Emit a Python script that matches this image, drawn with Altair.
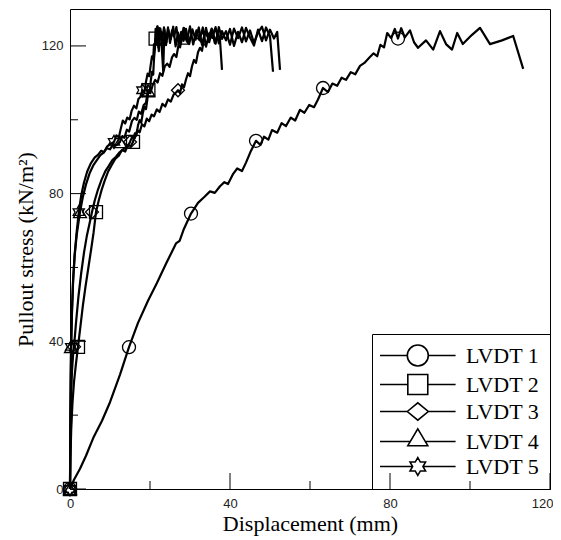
import altair as alt
import pandas as pd

names = ["LVDT 1", "LVDT 2", "LVDT 3", "LVDT 4", "LVDT 5"]

lvdt1_x = [0, 1.0, 2.5, 4.0, 5.8, 8.0, 10.0, 12.5, 14.75, 17.0,
           19.5, 21.7, 24.0, 26.5, 27.4, 28.5, 30.25, 32.0, 33.5, 35.0,
           36.2, 37.5, 38.6, 39.5, 40.7, 41.8, 43.0, 44.0, 45.2, 46.5,
           47.6, 48.5, 49.6, 50.5, 51.8, 52.9, 54.0, 55.2, 56.3, 57.5,
           58.6, 59.8, 61.0, 62.0, 63.25, 64.5, 65.6, 66.8, 67.9, 69.0,
           70.2, 71.3, 72.5, 73.6, 74.8, 75.9, 76.8, 77.6, 78.5, 79.3,
           80.3, 81.2, 82.0, 82.8, 83.7, 85.0, 86.0, 87.0, 89.0, 90.8,
           92.5, 94.0, 95.5, 96.8, 98.2, 100.5, 102.5, 105.0, 108.0, 110.8,
           113.3]
lvdt1_y = [0, 2.5, 5.5, 9.0, 13.8, 18.5, 23.5, 31.0, 38.4, 45.0,
           51.0, 55.7, 61.0, 66.5, 67.2, 70.5, 74.6, 77.5, 79.0, 80.6,
           80.2, 82.0, 83.1, 82.6, 85.2, 86.8, 86.1, 88.4, 91.5, 94.3,
           93.2, 95.4, 94.6, 97.2, 96.5, 99.1, 98.3, 100.6, 99.8, 102.7,
           101.9, 104.0, 103.4, 105.5, 108.6, 107.5, 109.8, 109.2, 111.4, 110.8,
           112.9, 112.3, 114.6, 115.4, 116.8, 118.0, 117.2, 120.3, 119.6, 123.5,
           122.1, 124.6, 122.0, 124.8, 122.3, 124.2, 121.0, 119.5, 121.5, 119.0,
           124.0, 120.5, 119.0, 123.5, 120.5, 123.0, 124.9, 120.5, 121.5, 122.7,
           113.8]

lvdt2_x = [0, 0.1, 0.3, 0.6, 1.0, 1.5, 2.0, 2.6, 3.2, 3.9,
           4.6, 5.3, 5.9, 6.5, 7.2, 7.9, 8.7, 9.5, 10.4, 11.3,
           12.2, 13.0, 13.8, 14.5, 15.2, 15.75, 16.2, 16.6, 17.0, 17.4,
           17.8, 18.2, 18.6, 19.0, 19.3, 19.6, 19.9, 20.2, 20.5, 20.8,
           21.0, 21.2, 21.4, 21.6, 21.9, 22.2, 22.6, 23.0, 23.5, 24.0,
           24.6, 25.2, 25.8, 26.4, 27.0, 27.7, 28.4, 29.1, 29.8, 30.6,
           31.4, 32.2, 33.0, 33.8, 34.6, 35.4, 36.2, 37.0, 37.5, 38.0]
lvdt2_y = [0, 8, 16, 23, 29, 34, 38.5, 44, 49.5, 55,
           60, 65, 69.5, 75, 78.2, 81.0, 83.6, 85.9, 87.7, 89.4,
           90.3, 91.8, 91.4, 93.2, 92.8, 94.0, 96.3, 95.7, 98.5, 99.9,
           99.2, 101.8, 103.5, 102.9, 105.2, 108.0, 107.3, 110.6, 113.0, 112.2,
           116.5, 118.8, 122.0, 120.4, 125.3, 118.6, 124.7, 121.5, 125.0, 120.2,
           124.3, 121.8, 125.2, 119.9, 123.6, 121.0, 124.9, 122.4, 120.5, 124.5,
           121.7, 125.0, 120.3, 123.9, 122.0, 124.7, 120.8, 123.5, 121.6, 113.5]

lvdt3_x = [0, 0.05, 0.15, 0.3, 0.5, 0.75, 1.0, 1.5, 2.1, 2.8,
           3.5, 4.2, 4.9, 5.5, 6.2, 7.0, 7.9, 8.8, 9.7, 10.6,
           11.5, 12.4, 13.2, 14.0, 14.6, 15.0, 15.6, 16.2, 16.8, 17.4,
           18.0, 18.6, 19.2, 19.8, 20.4, 21.0, 21.7, 22.4, 23.1, 23.8,
           24.5, 25.2, 25.9, 26.5, 27.0, 27.5, 28.0, 28.5, 29.0, 29.5,
           30.0, 30.5, 31.0, 31.5, 32.0, 32.5, 33.0, 33.5, 34.0, 34.8,
           35.6, 36.4, 37.2, 38.0, 39.0, 40.0, 41.0, 42.0, 43.0, 44.0,
           45.0, 46.0, 47.0, 48.0, 49.0, 50.0, 51.0, 51.8, 52.5]
lvdt3_y = [0, 8, 18, 26, 32, 36, 38.5, 45, 52, 58.5,
           64, 68.5, 72, 75, 78.2, 81.1, 83.8, 86.0, 87.5, 89.1,
           90.0, 91.2, 91.9, 92.6, 93.1, 94.0, 95.5, 95.0, 97.2, 96.6,
           98.8, 98.2, 100.3, 99.6, 101.4, 100.9, 102.8, 102.1, 104.3, 103.6,
           105.5, 104.9, 106.8, 107.4, 108.0, 107.2, 109.6, 108.8, 110.9, 112.6,
           111.8, 114.5, 116.2, 115.4, 118.3, 119.5, 118.7, 122.0, 124.9, 121.0,
           124.4, 120.6, 125.1, 121.9, 124.0, 120.3, 124.7, 122.1, 125.0, 121.2,
           124.2, 120.8, 123.6, 125.2, 121.5, 124.4, 122.0, 123.8, 113.5]

lvdt4_x = [0, 0.05, 0.12, 0.2, 0.25, 0.45, 0.75, 1.15, 1.7, 2.5,
           3.2, 4.0, 4.9, 5.9, 6.8, 7.6, 8.4, 9.2, 10.0, 10.8,
           11.6, 12.5, 13.1, 13.6, 14.2, 14.8, 15.5, 16.1, 16.7, 17.2,
           17.8, 18.4, 19.0, 19.5, 20.1, 20.7, 21.3, 21.9, 22.5, 23.1,
           23.7, 24.3, 24.9, 25.5, 26.0, 26.6, 27.1, 27.5, 28.0, 28.5,
           29.2, 30.0, 30.8, 31.6, 32.4, 33.2, 34.0, 34.8, 35.6, 36.4,
           37.2, 38.0, 39.0, 40.0, 41.0, 42.0, 43.0, 44.0, 45.0, 46.0,
           47.0, 48.0, 49.0, 50.0, 50.75]
lvdt4_y = [0, 12, 24, 33, 38.5, 47, 56, 63, 69, 75,
           79, 82.5, 85.5, 87.8, 89.2, 90.4, 91.1, 92.3, 92.0, 93.4,
           93.1, 94.0, 95.6, 95.1, 97.3, 96.8, 99.7, 100.5, 100.0, 102.2,
           101.6, 103.9, 104.6, 108.0, 107.2, 109.5, 110.8, 110.1, 112.6, 111.9,
           114.5, 115.2, 114.3, 116.9, 117.8, 117.0, 120.1, 119.6, 122.0, 124.8,
           121.2, 125.3, 120.4, 124.2, 121.6, 125.0, 119.8, 123.4, 122.2, 125.1,
           120.7, 124.0, 121.5, 124.6, 120.0, 123.8, 121.0, 124.9, 122.3, 120.1,
           124.4, 121.3, 125.0, 122.6, 113.0]

lvdt5_x = [0, 0.05, 0.1, 0.18, 0.3, 0.5, 0.8, 1.2, 1.7, 2.2,
           2.8, 3.5, 4.3, 5.2, 6.2, 7.0, 7.8, 8.5, 9.3, 10.2,
           11.0, 11.6, 12.2, 12.7, 13.2, 13.8, 14.3, 14.9, 15.4, 16.0,
           16.6, 17.1, 17.6, 18.1, 18.6, 19.0, 19.4, 19.8, 20.2, 20.5,
           20.8, 21.0, 21.2, 21.4, 21.6, 21.8, 22.1, 22.4, 22.8, 23.3,
           23.6, 24.0, 24.5, 25.0, 25.5, 26.0, 26.6, 27.2, 27.8, 28.4,
           29.0, 29.6, 30.3]
lvdt5_y = [0, 10, 20, 30, 38.5, 48, 57, 64, 70, 75,
           79.5, 83, 86, 88.2, 89.8, 90.5, 91.6, 91.2, 92.8, 93.5,
           94.0, 95.8, 95.2, 97.6, 99.8, 99.0, 100.6, 100.1, 102.4, 103.8,
           103.1, 105.6, 106.2, 108.0, 107.4, 110.3, 112.5, 111.8, 115.0, 117.2,
           116.4, 120.5, 119.2, 124.6, 121.0, 125.2, 119.5, 124.8, 122.0, 113.2,
           124.5, 121.2, 125.0, 120.8, 124.2, 122.5, 125.1, 120.6, 123.8, 121.4,
           124.6, 120.9, 123.0]

# marker positions (points on each curve)
mk1_x = [0, 14.75, 30.25, 46.5, 63.25, 82.0]
mk1_y = [0, 38.4, 74.6, 94.3, 108.6, 122.0]
mk2_x = [0, 2.0, 6.5, 15.75, 19.6, 21.4]
mk2_y = [0, 38.5, 75, 94.0, 108.0, 122.0]
mk3_x = [0, 1.0, 5.5, 15.0, 27.0, 33.5]
mk3_y = [0, 38.5, 75, 94.0, 108.0, 122.0]
mk4_x = [0, 0.25, 2.5, 12.5, 19.5, 28.0]
mk4_y = [0, 38.5, 75, 94.0, 108.0, 122.0]
mk5_x = [0, 0.3, 2.2, 11.0, 18.1, 22.8]
mk5_y = [0, 38.5, 75, 94.0, 108.0, 122.0]

x_major = [0, 40, 80, 120]
x_minor = [20, 60, 100]
y_major = [0, 40, 80, 120]
y_minor = [20, 60, 100]

series_x = [lvdt1_x, lvdt2_x, lvdt3_x, lvdt4_x, lvdt5_x]
series_y = [lvdt1_y, lvdt2_y, lvdt3_y, lvdt4_y, lvdt5_y]
mark_x = [mk1_x, mk2_x, mk3_x, mk4_x, mk5_x]
mark_y = [mk1_y, mk2_y, mk3_y, mk4_y, mk5_y]

rows = []
for name, xv, yv in zip(names, series_x, series_y):
    assert len(xv) == len(yv), name
    for i, (a, b) in enumerate(zip(xv, yv)):
        rows.append({"series": name, "i": i, "x": a, "y": b})
lines_df = pd.DataFrame(rows)

mrows = []
for name, xv, yv in zip(names, mark_x, mark_y):
    for a, b in zip(xv, yv):
        mrows.append({"series": name, "x": a, "y": b})
mk_df = pd.DataFrame(mrows)

W, H = 480, 480
xs = alt.Scale(domain=[0, 120], nice=False, zero=False)
ys = alt.Scale(domain=[0, 130], nice=False, zero=False)

star = ("M0,-1L0.2887,-0.5L0.866,-0.5L0.5774,0L0.866,0.5L0.2887,0.5L0,1"
        "L-0.2887,0.5L-0.866,0.5L-0.5774,0L-0.866,-0.5L-0.2887,-0.5Z")
marker_shapes = ["circle", "square", "diamond", "triangle-up", star]

legend_paths = [
    "M-3.6,0H-1M1,0H3.6M-1,0A1,1,0,1,1,1,0A1,1,0,1,1,-1,0Z",
    "M-3.6,0H-0.95M0.95,0H3.6M-0.95,-0.95H0.95V0.95H-0.95Z",
    "M-3.6,0H-1M1,0H3.6M-1,0L0,-0.82L1,0L0,0.82Z",
    "M-3.6,0H-0.7125M0.7125,0H3.6M0,-1.2L0.95,0.4H-0.95Z",
    "M-3.6,0H-0.4907M0.4907,0H3.6M0,-0.85L0.2454,-0.425L0.7361,-0.425L0.4907,0"
    "L0.7361,0.425L0.2454,0.425L0,0.85L-0.2454,0.425L-0.7361,0.425L-0.4907,0"
    "L-0.7361,-0.425L-0.2454,-0.425Z",
]

x_axis = alt.Axis(values=x_major, ticks=False, domain=False, grid=False,
                  labelFont="Liberation Sans", labelFontSize=13, labelColor="#222",
                  labelPadding=8, format="d",
                  labelAlign={"condition": {"test": "datum.value == 120", "value": "right"},
                              "value": "center"},
                  labelOffset={"condition": {"test": "datum.value == 120", "value": 3},
                               "value": 0},
                  title="Displacement (mm)", titleFont="Liberation Serif",
                  titleFontSize=22, titleFontWeight="normal", titleColor="black",
                  titlePadding=3)
y_axis = alt.Axis(values=y_major, ticks=False, domain=False, grid=False,
                  labelFont="Liberation Sans", labelFontSize=13, labelColor="#222",
                  labelPadding=7, format="d",
                  title="Pullout stress (kN/m²)", titleFont="Liberation Serif",
                  titleFontSize=22, titleFontWeight="normal", titleColor="black",
                  titlePadding=4)

lines = alt.Chart(lines_df).mark_line(color="black", strokeWidth=2.2, strokeJoin="round").encode(
    x=alt.X("x:Q", scale=xs, axis=x_axis),
    y=alt.Y("y:Q", scale=ys, axis=y_axis),
    detail="series:N",
    order="i:Q",
)

markers = alt.Chart(mk_df).mark_point(filled=False, color="black", strokeWidth=1.3,
                                       size=169, opacity=1).encode(
    x=alt.X("x:Q"),
    y=alt.Y("y:Q"),
    shape=alt.Shape("series:N", scale=alt.Scale(domain=names, range=marker_shapes), legend=None),
)

legend_layer = alt.Chart(mk_df).mark_point(filled=False, color="black", opacity=0, size=441).encode(
    x=alt.X("x:Q"),
    y=alt.Y("y:Q"),
    shape=alt.Shape("series:N", scale=alt.Scale(domain=names, range=legend_paths),
                    legend=alt.Legend(title=None, orient="bottom-right", offset=0, padding=10,
                                      strokeColor="black",
                                      labelFont="Liberation Serif", labelFontSize=22,
                                      labelColor="black", labelOpacity=1,
                                      symbolSize=441, symbolStrokeWidth=1.6,
                                      symbolStrokeColor="black", symbolFillColor="white",
                                      symbolOpacity=1, symbolOffset=24.3, labelOffset=36.7,
                                      rowPadding=1, labelLimit=0)),
)

xt_major = alt.Chart(pd.DataFrame({"x": x_major})).mark_rule(color="black", strokeWidth=1).encode(
    x=alt.X("x:Q"), y=alt.value(H), y2=alt.value(H - 16))
xt_minor = alt.Chart(pd.DataFrame({"x": x_minor})).mark_rule(color="black", strokeWidth=1).encode(
    x=alt.X("x:Q"), y=alt.value(H), y2=alt.value(H - 8))
yt_major = alt.Chart(pd.DataFrame({"y": y_major})).mark_rule(color="black", strokeWidth=1).encode(
    y=alt.Y("y:Q"), x=alt.value(0), x2=alt.value(16))
yt_minor = alt.Chart(pd.DataFrame({"y": y_minor})).mark_rule(color="black", strokeWidth=1).encode(
    y=alt.Y("y:Q"), x=alt.value(0), x2=alt.value(8))

chart = alt.layer(lines, markers, legend_layer, xt_major, xt_minor, yt_major, yt_minor).resolve_scale(
    shape="independent"
).properties(
    width=W, height=H,
    autosize=alt.AutoSizeParams(type="none"),
    padding={"left": 62, "top": 1, "right": 3, "bottom": 50},
).configure_view(stroke="black", strokeWidth=1)

chart.save("out.html", embed_options={"renderer": "svg", "actions": False})
